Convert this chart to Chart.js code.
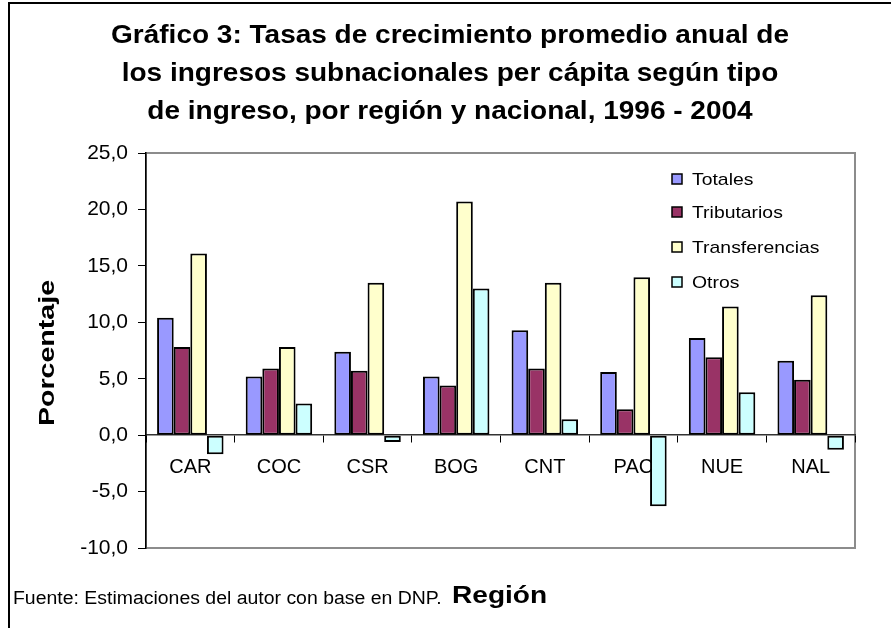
<!DOCTYPE html>
<html lang="es">
<head>
    <meta charset="UTF-8">
    <title>Gráfico 3</title>
    <script src="https://cdn.jsdelivr.net/npm/chart.js"></script>
    <style>
        body {
            margin: 0;
            background: #fff;
        }
        canvas {
            display: block;
        }
    </style>
</head>
<body>
    <canvas id="chart" width="891" height="628"></canvas>

    <script>
        // datos
        const regiones = ["CAR", "COC", "CSR", "BOG", "CNT", "PAC", "NUE", "NAL"];
        const totales = [10.4, 5.2, 7.4, 5.2, 9.3, 5.6, 8.6, 6.6];
        const tributarios = [7.8, 5.9, 5.7, 4.4, 5.9, 2.3, 6.9, 4.9];
        const transferencias = [16.1, 7.8, 13.5, 20.7, 13.5, 14.0, 11.4, 12.4];
        const otros = [-1.7, 2.8, -0.6, 13.0, 1.4, -6.3, 3.8, -1.3];

        const titulo = [
            "Gráfico 3: Tasas de crecimiento promedio anual de",
            "los ingresos subnacionales per cápita según tipo",
            "de ingreso, por región y nacional, 1996 - 2004"
        ];
        const fuente = "Fuente: Estimaciones del autor con base en DNP.";

        const FAMILY = '"Liberation Sans", Arial, sans-serif';

        // texto ensanchado horizontalmente, como en el original
        function wideText(ctx, txt, x, y, font, sx, align) {
            ctx.save();
            ctx.font = font;
            ctx.fillStyle = "#000";
            ctx.textAlign = align || "left";
            ctx.textBaseline = "alphabetic";
            ctx.translate(x, y);
            ctx.scale(sx, 1);
            ctx.fillText(txt, 0, 0);
            ctx.restore();
        }

        const plotFrame = {
            id: "plotFrame",
            beforeDraw(chart) {
                const { ctx, chartArea: a } = chart;
                ctx.save();
                ctx.strokeStyle = "#8c8c8c";
                ctx.lineWidth = 2;
                ctx.strokeRect(a.left, a.top, a.right - a.left, a.bottom - a.top);
                ctx.restore();
            }
        };

        const extras = {
            id: "extras",
            afterDraw(chart) {
                const ctx = chart.ctx;

                // marco exterior
                ctx.save();
                ctx.strokeStyle = "#000";
                ctx.lineWidth = 2;
                ctx.beginPath();
                ctx.moveTo(9, 640);
                ctx.lineTo(9, 3);
                ctx.lineTo(900, 3);
                ctx.stroke();
                ctx.restore();

                // titulo
                const baselines = [43, 81, 119];
                titulo.forEach((line, i) => {
                    wideText(ctx, line, 450, baselines[i], "bold 25px " + FAMILY, 1.12, "center");
                });

                // eje y
                ctx.save();
                ctx.translate(54, 353);
                ctx.rotate(-Math.PI / 2);
                wideText(ctx, "Porcentaje", 0, 0, "bold 22px " + FAMILY, 1.3, "center");
                ctx.restore();

                // fuente y eje x
                wideText(ctx, fuente, 13, 604, "18px " + FAMILY, 1.08, "left");
                wideText(ctx, "Región", 452, 603, "bold 24px " + FAMILY, 1.17, "left");

                // leyenda
                const rows = [179, 212, 247, 282];
                chart.data.datasets.forEach((ds, i) => {
                    const cy = rows[i];
                    ctx.save();
                    ctx.fillStyle = ds.backgroundColor;
                    ctx.fillRect(672, cy - 5, 10, 10);
                    ctx.strokeStyle = "#000";
                    ctx.lineWidth = 1.5;
                    ctx.strokeRect(672, cy - 5, 10, 10);
                    ctx.restore();
                    wideText(ctx, ds.label, 692, cy + 6, "17px " + FAMILY, 1.14, "left");
                });
            }
        };

        function fmt(v) {
            return v.toFixed(1).replace(".", ",");
        }

        new Chart(document.getElementById("chart"), {
            type: "bar",
            data: {
                labels: regiones,
                datasets: [
                    { label: "Totales", data: totales, backgroundColor: "#9999ff" },
                    { label: "Tributarios", data: tributarios, backgroundColor: "#993366" },
                    { label: "Transferencias", data: transferencias, backgroundColor: "#ffffcc" },
                    { label: "Otros", data: otros, backgroundColor: "#ccffff" }
                ]
            },
            options: {
                responsive: false,
                animation: false,
                events: [],
                layout: {
                    padding: { top: 153, bottom: 80, left: 0, right: 36 }
                },
                datasets: {
                    bar: {
                        borderColor: "#000",
                        borderWidth: 2,
                        borderSkipped: false,
                        categoryPercentage: 0.75,
                        barPercentage: 1.0
                    }
                },
                scales: {
                    x: {
                        position: { y: 0 },
                        afterFit(scale) { scale.height = 0; },
                        grid: {
                            offset: true,
                            drawOnChartArea: false,
                            color: "#000",
                            tickLength: 7
                        },
                        border: { color: "#333", width: 1.5 },
                        ticks: {
                            color: "#000",
                            padding: 13,
                            font: { family: FAMILY, size: 20 }
                        }
                    },
                    y: {
                        min: -10,
                        max: 25,
                        afterFit(scale) { scale.width = 146; },
                        grid: {
                            drawOnChartArea: false,
                            color: "#000",
                            tickLength: 8
                        },
                        border: { color: "#000", width: 1.5 },
                        ticks: {
                            stepSize: 5,
                            color: "#000",
                            padding: 10,
                            font: { family: FAMILY, size: 21 },
                            callback: v => fmt(v)
                        }
                    }
                },
                plugins: {
                    legend: { display: false },
                    title: { display: false },
                    tooltip: { enabled: false }
                }
            },
            plugins: [plotFrame, extras]
        });
    </script>
</body>
</html>
